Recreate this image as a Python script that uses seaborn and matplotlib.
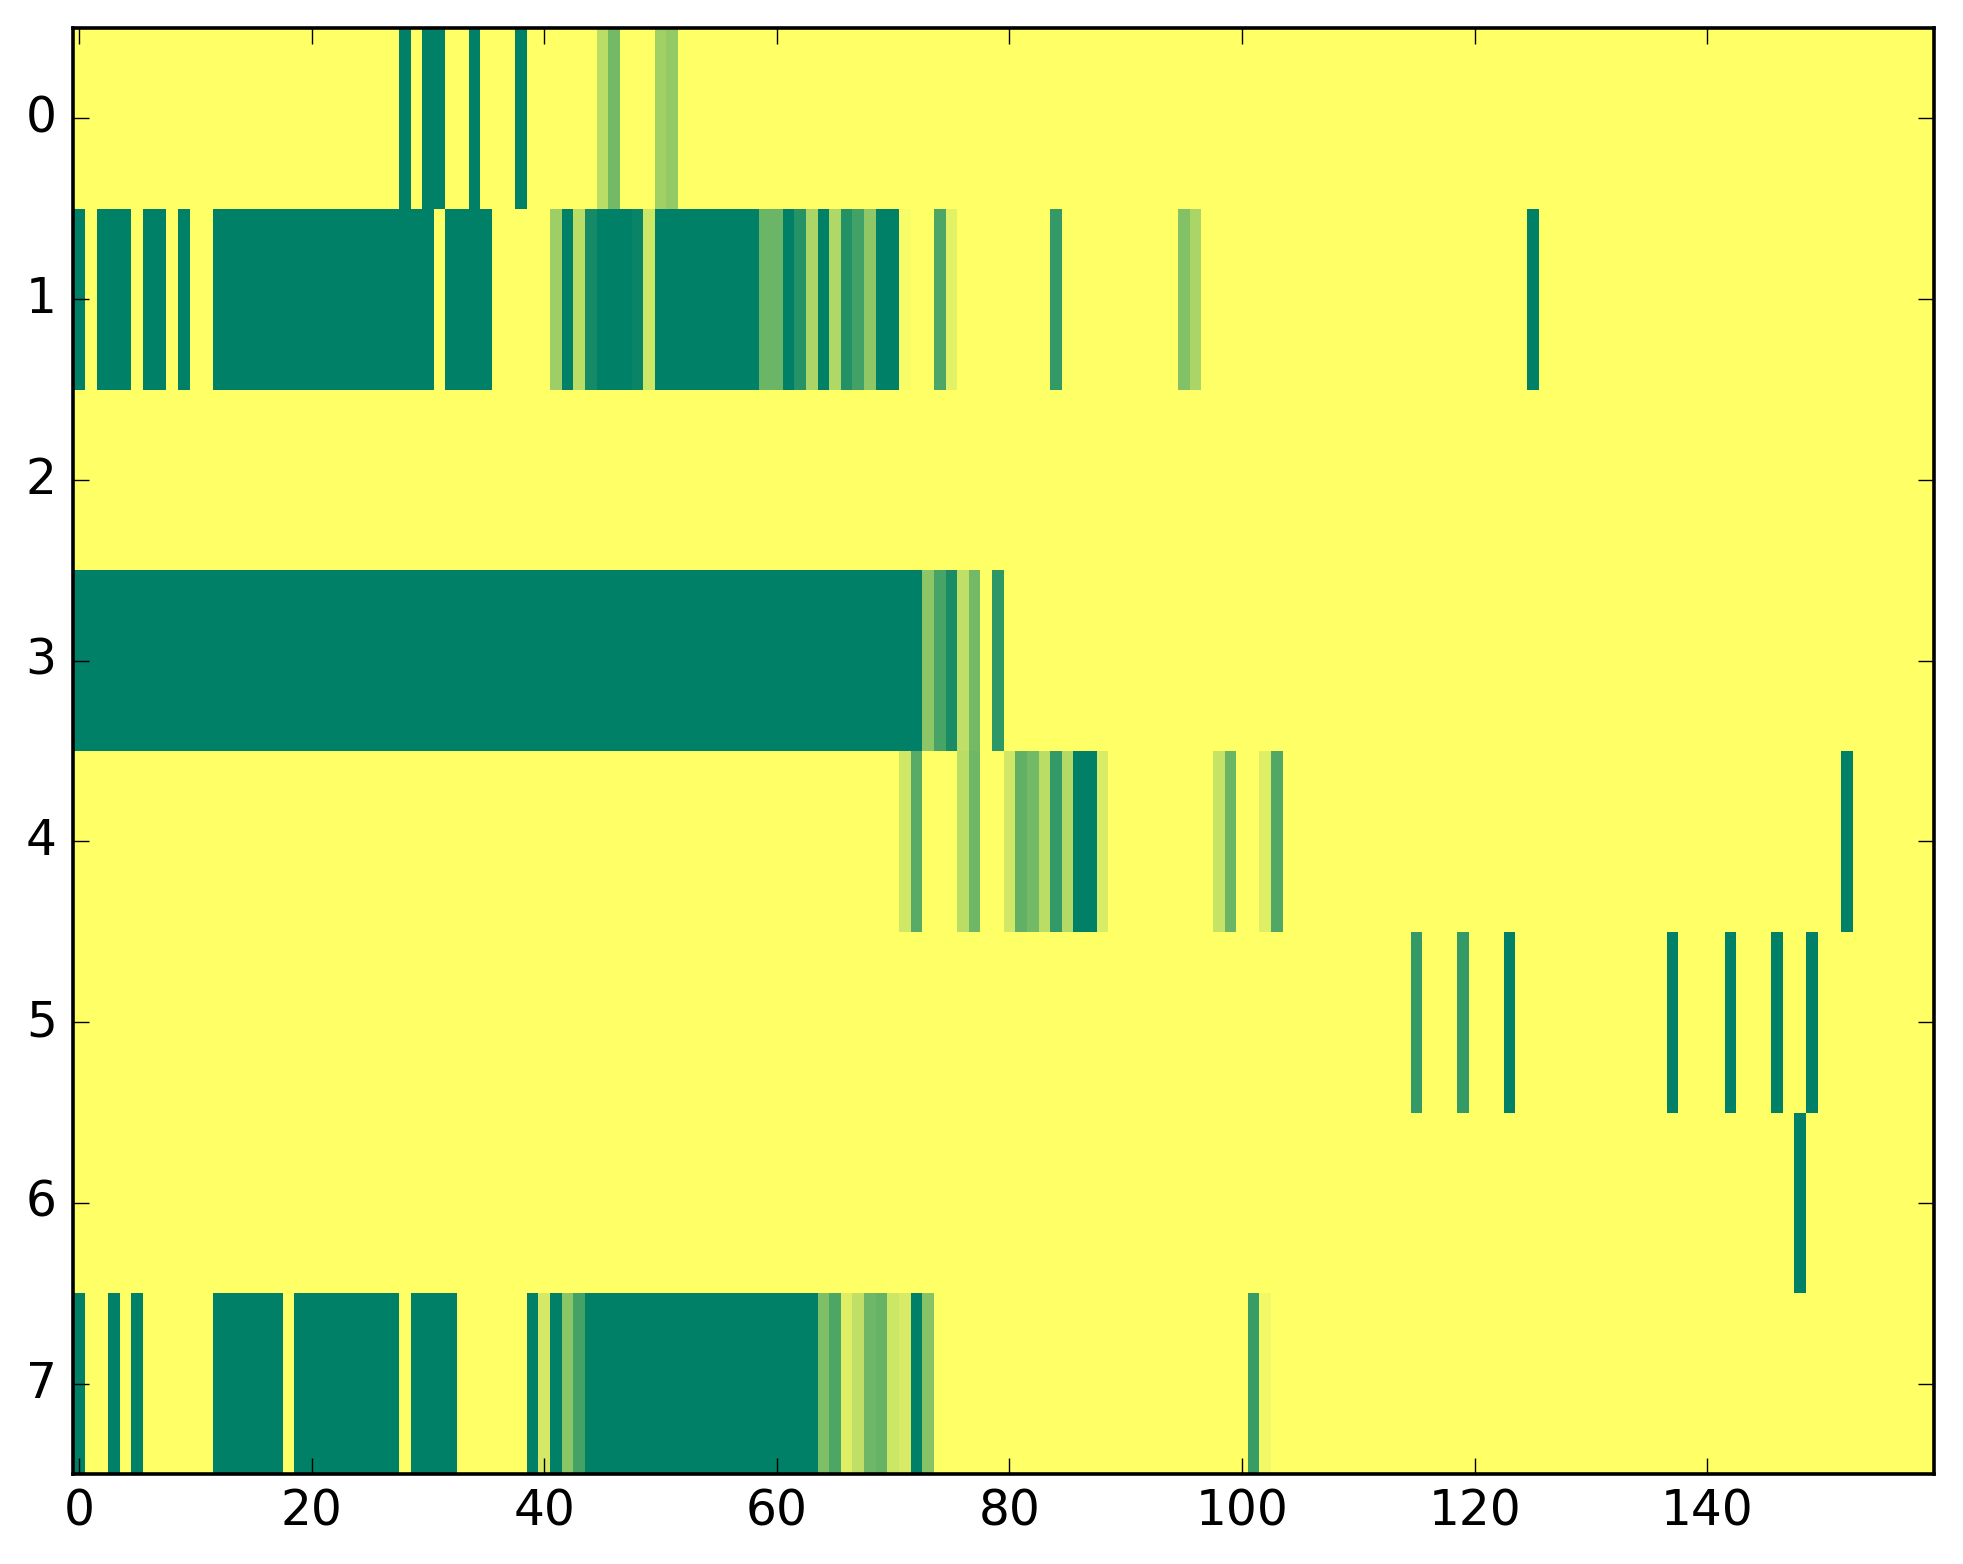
import matplotlib
matplotlib.use('Agg')
import matplotlib.pyplot as plt
import seaborn as sns
import numpy as np

n_cols = 160
n_rows = 8

# each row: (first column, last column, value) runs; everything else is 0
row0 = [(28, 28, 1.0), (30, 31, 1.0), (34, 34, 1.0), (38, 38, 1.0),
        (45, 45, 0.27), (46, 46, 0.55), (50, 50, 0.37), (51, 51, 0.42)]
row1 = [(0, 0, 1.0), (2, 4, 1.0), (6, 7, 1.0), (9, 9, 1.0), (12, 30, 1.0),
        (32, 35, 1.0), (41, 41, 0.38), (42, 42, 1.0), (43, 43, 0.27),
        (44, 44, 0.92), (45, 47, 1.0), (48, 48, 0.96), (49, 49, 0.2),
        (50, 58, 1.0), (59, 60, 0.58), (61, 61, 1.0), (62, 62, 0.85),
        (63, 63, 0.33), (64, 64, 1.0), (65, 65, 0.31), (66, 66, 0.86),
        (67, 67, 0.74), (68, 68, 0.44), (69, 70, 1.0), (71, 71, 0.03),
        (74, 74, 0.7), (75, 75, 0.11), (84, 84, 0.8), (95, 95, 0.49),
        (96, 96, 0.33), (125, 125, 1.0)]
row2 = []
row3 = [(0, 72, 1.0), (73, 73, 0.45), (74, 74, 0.72), (75, 75, 0.9),
        (76, 76, 0.25), (77, 77, 0.55), (79, 79, 0.82)]
row4 = [(71, 71, 0.18), (72, 72, 0.66), (76, 76, 0.27), (77, 77, 0.57),
        (80, 80, 0.18), (81, 81, 0.62), (82, 82, 0.55), (83, 83, 0.27),
        (84, 84, 0.8), (85, 85, 0.3), (86, 87, 1.0), (88, 88, 0.15),
        (98, 98, 0.22), (99, 99, 0.58), (102, 102, 0.13), (103, 103, 0.68),
        (152, 152, 1.0)]
row5 = [(115, 115, 0.8), (119, 119, 0.8), (123, 123, 1.0), (137, 137, 1.0),
        (142, 142, 1.0), (146, 146, 1.0), (149, 149, 1.0)]
row6 = [(148, 148, 1.0)]
row7 = [(0, 0, 1.0), (3, 3, 1.0), (5, 5, 1.0), (12, 17, 1.0), (19, 27, 1.0),
        (29, 32, 1.0), (39, 39, 1.0), (40, 40, 0.17), (41, 41, 1.0),
        (42, 42, 0.46), (43, 43, 0.73), (44, 63, 1.0), (64, 64, 0.5),
        (65, 65, 0.7), (66, 66, 0.13), (67, 67, 0.25), (68, 68, 0.57),
        (69, 69, 0.6), (70, 70, 0.2), (71, 71, 0.16), (72, 72, 1.0),
        (73, 73, 0.47), (101, 101, 0.78), (102, 102, 0.05)]

rows = [row0, row1, row2, row3, row4, row5, row6, row7]

xtick_vals = [0, 20, 40, 60, 80, 100, 120, 140]
ytick_vals = [0, 1, 2, 3, 4, 5, 6, 7]

# build the matrix from the runs
data = np.zeros((n_rows, n_cols))
for r, runs in enumerate(rows):
    for start, end, v in runs:
        data[r, start:end + 1] = v

fig = plt.figure(figsize=(1963 / 200, 1564 / 200), dpi=200)
ax = fig.add_axes([73.3 / 1963, 1 - 1474 / 1564, (1934 - 73.3) / 1963, (1474 - 28) / 1564])

sns.heatmap(data, cmap='summer_r', vmin=0, vmax=1, cbar=False, ax=ax)

# classic-looking frame with inward ticks on all sides
for side in ['top', 'bottom', 'left', 'right']:
    ax.spines[side].set_visible(True)
    ax.spines[side].set_linewidth(1.3)
    ax.spines[side].set_color('black')

ax.set_xticks(np.array(xtick_vals) + 0.5)
ax.set_xticklabels([str(v) for v in xtick_vals], rotation=0)
ax.set_yticks(np.array(ytick_vals) + 0.5)
ax.set_yticklabels([str(v) for v in ytick_vals], rotation=0)
ax.tick_params(axis='both', direction='in', length=5.6, width=0.5,
               top=True, right=True, labelsize=17.5, colors='black')
ax.tick_params(axis='x', pad=5)
ax.tick_params(axis='y', pad=6)

fig.savefig('out.png', dpi=200)
